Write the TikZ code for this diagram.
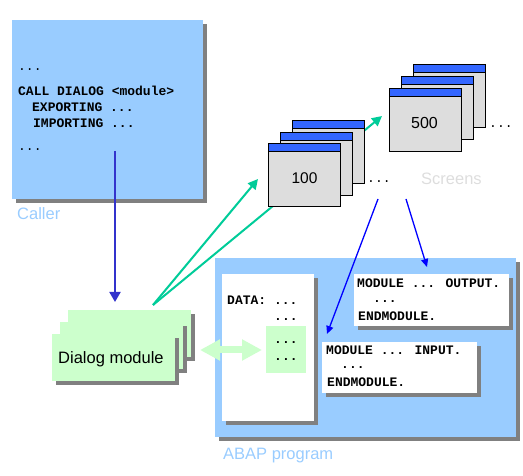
\documentclass[tikz,border=0pt]{standalone}
\usepackage{fontspec}
\setmainfont{Liberation Sans}
\newfontfamily\codefont{Liberation Mono}
\usetikzlibrary{arrows.meta,shadows}
\definecolor{callerblue}{HTML}{99CCFF}
\definecolor{shadowgray}{HTML}{808080}
\definecolor{dmgreen}{HTML}{CCFFCC}
\definecolor{teal}{HTML}{00CC99}
\definecolor{darkblue}{HTML}{3333CC}
\definecolor{pureblue}{HTML}{0000FF}
\definecolor{titleblue}{HTML}{3366FF}
\definecolor{wingray}{HTML}{DDDDDD}
\tikzset{
  shadowed/.style={drop shadow={shadow xshift=4pt, shadow yshift=-4pt, fill=shadowgray, opacity=1}},
  box/.style={rectangle, inner sep=0pt, anchor=north west},
  dmbox/.style={box, shadowed, fill=dmgreen, minimum width=123pt, minimum height=47pt},
  win/.style={box, draw=black, line width=1pt, fill=wingray, minimum width=71.5pt, minimum height=63.5pt,
    path picture={
      \fill[titleblue] (path picture bounding box.north west) rectangle ([yshift=-8pt]path picture bounding box.north east);
      \draw[line width=1.3pt] ([yshift=-8pt]path picture bounding box.north west) -- ([yshift=-8pt]path picture bounding box.north east);
    }},
  code/.style={inner sep=0pt, anchor=base west, font=\codefont\bfseries\fontsize{13}{16}\selectfont},
  dots/.style={inner sep=0pt, anchor=base west, font=\codefont\fontsize{13}{16}\selectfont},
  lbl/.style={inner sep=0pt, anchor=base west, font=\fontsize{16.5}{20}\selectfont},
  greenarrow/.style={draw=teal, line width=2pt, -{Triangle[length=10pt,width=10pt]}},
  bluearrow/.style={draw=pureblue, line width=1.3pt, -{Triangle[length=8pt,width=7pt]}},
  callerarrow/.style={draw=darkblue, line width=2pt, -{Triangle[length=10pt,width=11pt]}},
}
\begin{document}
\begin{tikzpicture}[x=1pt,y=-1pt]
\useasboundingbox (0,0) rectangle (523,476);
% Caller
\node[box, shadowed, fill=callerblue, minimum width=191pt, minimum height=179pt] (caller) at (12,20) {};
\node[dots] (c1) at (18,71) {...};
\node[code] (c2) at (18,96) {CALL DIALOG <module>};
\node[code] (c3) at (32,112) {EXPORTING ...};
\node[code] (c4) at (33,128) {IMPORTING ...};
\node[dots] (c5) at (18,151) {...};
\node[lbl, text=callerblue] (callerlbl) at (17,220) {Caller};
% ABAP program
\node[box, shadowed, fill=callerblue, minimum width=301pt, minimum height=179pt] (abap) at (215,258) {};
\node[lbl, text=callerblue] (abaplbl) at (223,459) {ABAP program};
\node[box, shadowed, fill=white, minimum width=92pt, minimum height=147pt] (databox) at (222,274) {};
\node[box, fill=dmgreen, minimum width=40pt, minimum height=47pt] (greenbox) at (266,326) {};
\node[code] (d1) at (227,305) {DATA: ...};
\node[code] (d2) at (274,320) {...};
\node[code] (d3) at (274,344) {...};
\node[code] (d4) at (274,360) {...};
\node[box, shadowed, fill=white, minimum width=155pt, minimum height=52pt] (outbox) at (354,274) {};
\node[code] (o1) at (357,288) {MODULE ... OUTPUT.};
\node[code] (o2) at (373,303) {...};
\node[code] (o3) at (358,321) {ENDMODULE.};
\node[box, shadowed, fill=white, minimum width=155pt, minimum height=51pt] (inbox) at (322,342) {};
\node[code] (i1) at (326,355) {MODULE ... INPUT.};
\node[code] (i2) at (341,369) {...};
\node[code] (i3) at (327,387) {ENDMODULE.};
% Dialog module
\node[dmbox] (dm3) at (68,310) {};
\node[dmbox] (dm2) at (60,322) {};
\node[dmbox] (dm1) at (52,334) {};
\node[lbl] (dmlbl) at (58,363) {Dialog module};
% green arrows (behind screens)
\coordinate (dmout) at (153,305);
\coordinate (s100in) at (258,179);
\coordinate (s500in) at (382,116);
\draw[greenarrow] (dmout) -- (s100in);
\draw[greenarrow] (dmout) -- (s500in);
% screens 100
\node[win] (w100c) at (292,120) {};
\node[win] (w100b) at (280,132) {};
\node[win] (w100a) at (268,143) {};
\node[font=\fontsize{15.5}{18}\selectfont, inner sep=0pt, anchor=base] (n100) at (304.5,184) {100};
\node[dots] (dots100) at (367,183) {...};
% screens 500
\node[win] (w500c) at (413,64) {};
\node[win] (w500b) at (401,76) {};
\node[win] (w500a) at (389,88) {};
\node[font=\fontsize{16}{19}\selectfont, inner sep=0pt, anchor=base] (n500) at (424.5,129) {500};
\node[dots] (dots500) at (489,128) {...};
\node[lbl, text=wingray] (screens) at (421,185) {Screens};
% caller arrow
\coordinate (callerout) at (115,151);
\coordinate (dmin) at (115,302);
\draw[callerarrow] (callerout) -- (dmin);
% blue arrows
\coordinate (sA) at (378,199);
\coordinate (sB) at (406,199);
\coordinate (inA) at (327,334);
\coordinate (outB) at (427,267);
\draw[bluearrow] (sA) -- (inA);
\draw[bluearrow] (sB) -- (outB);
% double arrow
\coordinate (dbl) at (200,350);
\coordinate (dbr) at (262,350);
\draw[draw=dmgreen, line width=7pt, {Triangle[length=20pt,width=20pt]}-{Triangle[length=20pt,width=20pt]}] (dbl) -- (dbr);
\end{tikzpicture}
\end{document}
